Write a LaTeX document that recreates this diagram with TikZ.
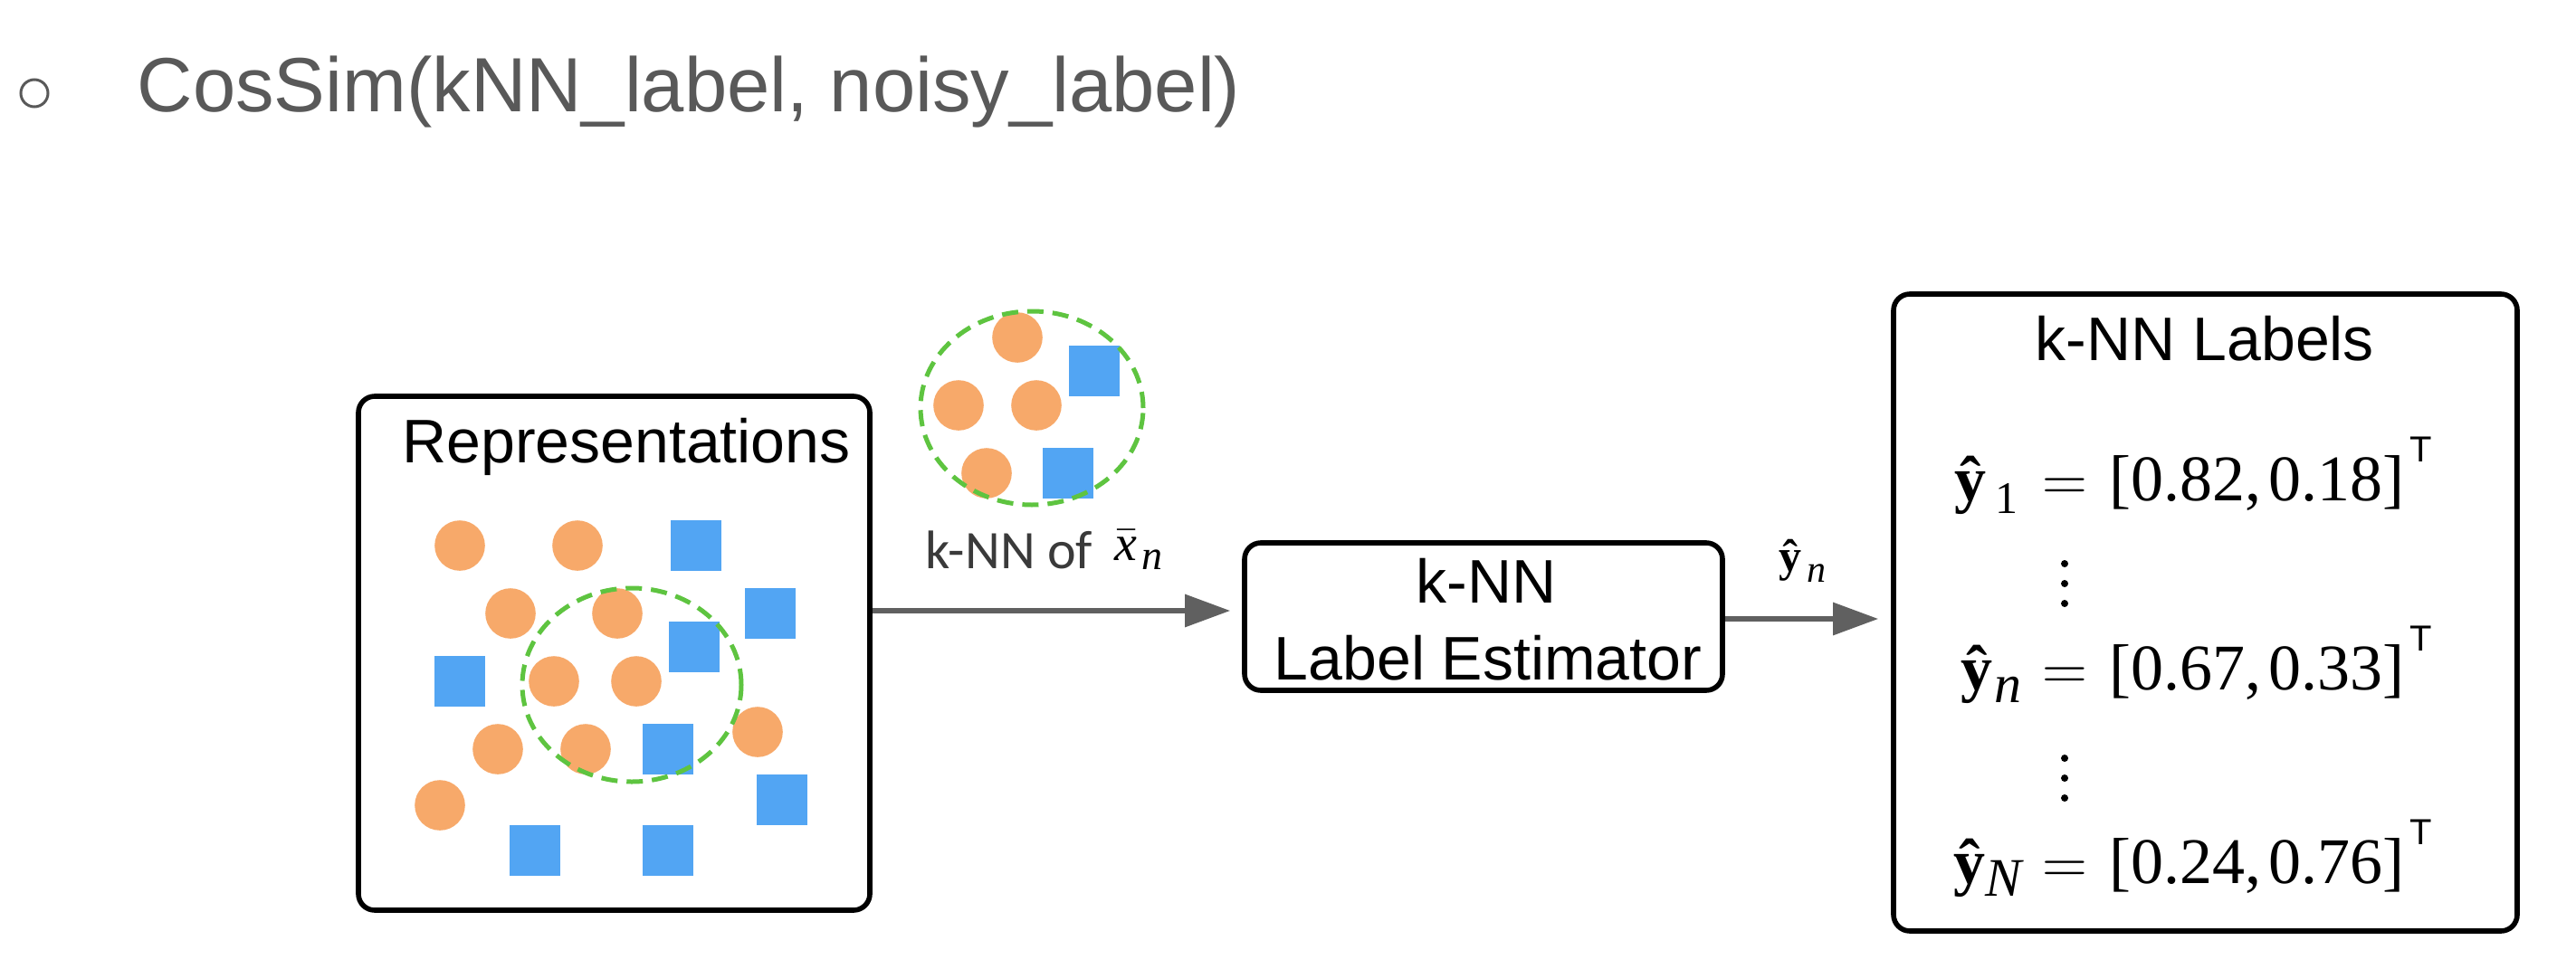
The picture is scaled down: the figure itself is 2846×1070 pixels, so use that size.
\documentclass[tikz,border=0pt]{standalone}
\usepackage{fontspec}
\setmainfont{Liberation Sans}
\newfontfamily\tms{Liberation Serif}
\newfontfamily\carl{Carlito}
\usetikzlibrary{arrows.meta}
\definecolor{titlegray}{HTML}{595959}
\definecolor{arrgray}{HTML}{606060}
\definecolor{kgray}{HTML}{3A3A3A}
\definecolor{orng}{HTML}{F7A96A}
\definecolor{blu}{HTML}{52A5F3}
\definecolor{grn}{HTML}{5EC440}
\newcommand\fs[1]{\fontsize{#1pt}{#1pt}\selectfont}
\newcommand\supT{\raisebox{10.75pt}{\normalfont\fs{10}T}}
\begin{document}
\begin{tikzpicture}[x=0.25pt,y=-0.25pt,
  box/.style={draw=black, line width=1.4pt, rounded corners=4.5pt, fill=white, inner sep=0},
  arr/.style={draw=arrgray, line width=1.5pt, -{Triangle[length=12.5pt,width=8.75pt]}},
  dotc/.style={circle, fill=orng, minimum size=13.9pt, inner sep=0},
  sqr/.style={rectangle, fill=blu, minimum size=14pt, inner sep=0},
  nbr/.style={draw=grn, line width=1.25pt, dash pattern=on 4.5pt off 2.5pt},
  txt/.style={inner sep=0, anchor=base},
  big/.style={font=\fs{17}},
  mth/.style={font=\tms\fs{18}},
  yhat/.style={font=\tms\fs{17.5}},
]
\fill[white] (0,0) rectangle (2846,1070);
\useasboundingbox (0,0) rectangle (2846,1070);

% title line
\node[circle, draw=titlegray, line width=0.75pt, minimum size=7.5pt, inner sep=0] (bullet) at (38,103) {};
\node[txt, anchor=base west, font=\fs{21.25}, text=titlegray] (title) at (151,124) {CosSim(kNN\_label, noisy\_label)};

% boxes
\node[box, minimum width=141.25pt, minimum height=142pt] (rep) at (678.5,722) {};
\node[box, minimum width=132pt, minimum height=40.75pt] (est) at (1639,681.5) {};
\node[box, minimum width=172.25pt, minimum height=176pt] (lab) at (2436.5,677) {};

% representations
\node[txt, big] (repT) at (692,511) {Representations};
\foreach \p [count=\i] in {(508,603),(638,603),(564,678),(682,678),(612,753),(703,753),(550,828),(647,828),(837,809),(486,890)}
  \node[dotc] (rc\i) at \p {};
\foreach \p [count=\i] in {(769,603),(851,678),(767,715),(508,753),(738,828),(864,884),(591,940),(738,940)}
  \node[sqr] (rs\i) at \p {};
\draw[nbr] (698,757) ellipse [x radius=30.25pt, y radius=26.75pt];

% k-NN cluster
\foreach \p [count=\i] in {(1124,373),(1059,448),(1145,448),(1090,523)}
  \node[dotc] (kc\i) at \p {};
\foreach \p [count=\i] in {(1209,410),(1180,523)}
  \node[sqr] (ks\i) at \p {};
\draw[nbr] (1140,451) ellipse [x radius=30.75pt, y radius=26.75pt];
\node[txt, anchor=base west, font=\carl\fs{15}, text=kgray] (knnof) at (1022,628) {k-NN of};
\node[txt, anchor=base west, font=\tms\itshape\fs{14}] (xbar) at (1231,619) {$\bar{\hbox{x}}$};
\node[txt, anchor=base west, font=\tms\itshape\fs{11.5}] (xsub) at (1261,629) {n};

% estimator
\node[txt, big] (estA) at (1642,666) {k-NN};
\node[txt, big] (estB) at (1644,751) {Label Estimator};

% labels box
\node[txt, big] (labT) at (2436,398) {k-NN Labels};
\node[txt, yhat, anchor=base east] (y1) at (2230,553) {\textbf{ŷ}\hspace{2.5pt}\raisebox{-3.5pt}{\fs{12.5}1}};
\node[txt, mth, anchor=base west] (r1) at (2256,553) {$=$\hspace{6pt}[0.82,\hspace{2pt}0.18]\hspace{1.5pt}\supT};
\node[txt, yhat, anchor=base east] (yn) at (2234,762) {\textbf{ŷ}\hspace{0.5pt}\raisebox{-3.5pt}{\itshape\fs{15}n}};
\node[txt, mth, anchor=base west] (rn) at (2256,762) {$=$\hspace{6pt}[0.67,\hspace{2pt}0.33]\hspace{1.5pt}\supT};
\node[txt, yhat, anchor=base east] (yN) at (2234,976) {\textbf{ŷ}\raisebox{-3.5pt}{\itshape\fs{15}N}};
\node[txt, mth, anchor=base west] (rN) at (2256,976) {$=$\hspace{6pt}[0.24,\hspace{2pt}0.76]\hspace{1.5pt}\supT};
\foreach \yy in {623,645,667,838,860,882}
  \fill (2281,\yy) circle [radius=1pt];

% arrows
\coordinate (a1) at (1100,675);
\coordinate (a2) at (2000,684);
\draw[arr, shorten >=3.25pt] (rep.east |- a1) -- (est.west |- a1);
\draw[arr, shorten >=3.5pt] (est.east |- a2) -- (lab.west |- a2);
\node[txt, anchor=base west, font=\tms\fs{12.5}] (yhatn) at (1965,631) {\textbf{ŷ}\hspace{1.5pt}\raisebox{-3pt}{\itshape\fs{10.5}n}};
\end{tikzpicture}
\end{document}
